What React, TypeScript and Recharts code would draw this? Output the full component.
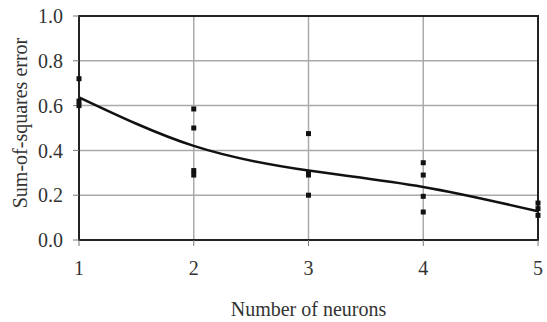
import { ComposedChart, Line, Scatter, XAxis, YAxis, CartesianGrid, ReferenceArea } from 'recharts';

// fitted curve
const neurons = [1, 2, 3, 4, 5];
const fitError = [0.637, 0.42, 0.31, 0.237, 0.128];

// individual runs
const runNeurons = [1, 1, 1, 2, 2, 2, 2, 3, 3, 3, 3, 4, 4, 4, 4, 5, 5, 5];
const runError = [0.72, 0.62, 0.6, 0.585, 0.5, 0.31, 0.29, 0.475, 0.3, 0.29, 0.2, 0.345, 0.29, 0.195, 0.125, 0.165, 0.14, 0.11];

const xTicks = [1, 2, 3, 4, 5];
const yTicks = [0, 0.2, 0.4, 0.6, 0.8, 1.0];

const fitData = neurons.map((n, i) => ({ x: n, y: fitError[i] }));
const runData = runNeurons.map((n, i) => ({ x: n, y: runError[i] }));

const font = '"Liberation Serif", "Times New Roman", serif';

const Square = (props: any) => {
  const { cx, cy } = props;
  if (cx == null || cy == null) return null;
  return <rect x={cx - 2.5} y={cy - 2.5} width={5} height={5} fill="#111" />;
};

export default function App() {
  return (
    <div style={{ position: 'absolute', left: 0, top: 0, width: 547, height: 322, background: '#fff' }}>
      <ComposedChart
        width={547}
        height={322}
        margin={{ top: 16, right: 9, left: 0, bottom: 0 }}
      >
        <CartesianGrid stroke="#aaa" strokeWidth={1.5} />
        <XAxis
          dataKey="x"
          type="number"
          domain={[1, 5]}
          ticks={xTicks}
          height={82}
          allowDuplicatedCategory={false}
          axisLine={{ stroke: '#222', strokeWidth: 2 }}
          tickLine={{ stroke: '#777' }}
          tickSize={6}
          tick={{ fill: '#333', fontSize: 20, fontFamily: font }}
          tickMargin={15}
          label={{ value: 'Number of neurons', position: 'insideBottom', offset: 6, fill: '#333', fontSize: 20, fontFamily: font }}
        />
        <YAxis
          type="number"
          domain={[0, 1]}
          ticks={yTicks}
          width={79}
          axisLine={{ stroke: '#222', strokeWidth: 2 }}
          tickLine={{ stroke: '#777' }}
          tickSize={6}
          tickMargin={10}
          tickFormatter={(v: number) => v.toFixed(1)}
          tick={{ fill: '#333', fontSize: 20, fontFamily: font }}
          label={{ value: 'Sum-of-squares error', angle: -90, position: 'insideLeft', offset: 20, dy: -5, fill: '#333', fontSize: 20, fontFamily: font, style: { textAnchor: 'middle' } }}
        />
        <ReferenceArea x1={1} x2={5} y1={0} y2={1} fill="none" stroke="#222" strokeWidth={2} />
        <Scatter data={runData} dataKey="y" shape={<Square />} isAnimationActive={false} />
        <Line
          data={fitData}
          dataKey="y"
          type="natural"
          stroke="#111"
          strokeWidth={2.5}
          dot={false}
          isAnimationActive={false}
        />
      </ComposedChart>
    </div>
  );
}
